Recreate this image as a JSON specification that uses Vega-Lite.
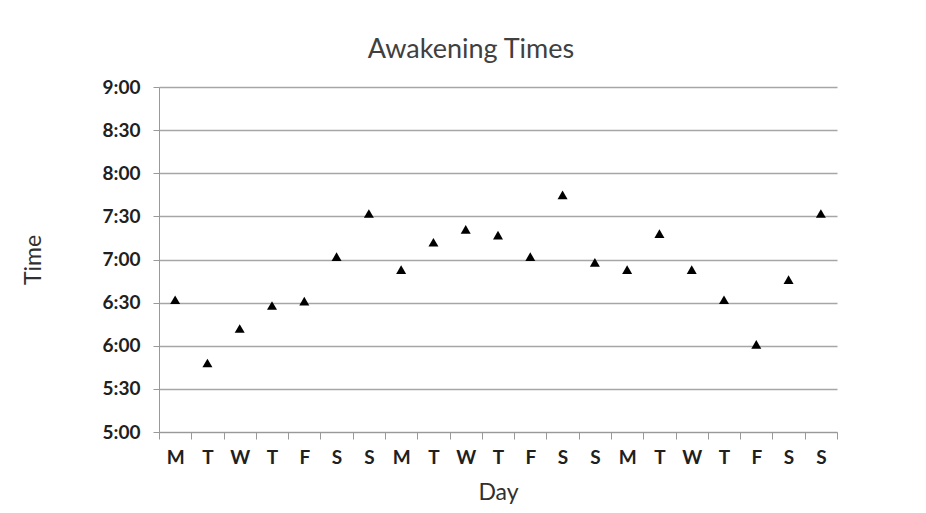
{
  "$schema": "https://vega.github.io/schema/vega-lite/v6.json",
  "width": 678,
  "height": 345,
  "autosize": {"type": "none"},
  "padding": {"left": 159, "top": 87, "right": 89, "bottom": 81},
  "background": "white",
  "title": {
    "text": "Awakening Times",
    "font": "Lato",
    "fontSize": 27,
    "fontWeight": "normal",
    "color": "#404040",
    "anchor": "middle",
    "dx": -27,
    "offset": 14
  },
  "data": {
    "values": [
      {"n": 1, "day": "M", "minutes": 392},
      {"n": 2, "day": "T", "minutes": 348},
      {"n": 3, "day": "W", "minutes": 372},
      {"n": 4, "day": "T", "minutes": 388},
      {"n": 5, "day": "F", "minutes": 391},
      {"n": 6, "day": "S", "minutes": 422},
      {"n": 7, "day": "S", "minutes": 452},
      {"n": 8, "day": "M", "minutes": 413},
      {"n": 9, "day": "T", "minutes": 432},
      {"n": 10, "day": "W", "minutes": 441},
      {"n": 11, "day": "T", "minutes": 437},
      {"n": 12, "day": "F", "minutes": 422},
      {"n": 13, "day": "S", "minutes": 465},
      {"n": 14, "day": "S", "minutes": 418},
      {"n": 15, "day": "M", "minutes": 413},
      {"n": 16, "day": "T", "minutes": 438},
      {"n": 17, "day": "W", "minutes": 413},
      {"n": 18, "day": "T", "minutes": 392},
      {"n": 19, "day": "F", "minutes": 361},
      {"n": 20, "day": "S", "minutes": 406},
      {"n": 21, "day": "S", "minutes": 452}
    ]
  },
  "mark": {"type": "point", "shape": "triangle-up", "filled": true, "color": "black", "size": 100, "opacity": 1},
  "encoding": {
    "x": {
      "field": "n",
      "type": "ordinal",
      "title": "Day",
      "scale": {"type": "band", "paddingInner": 0, "paddingOuter": 0},
      "axis": {
        "labelExpr": "!(datum.value >= 1 && datum.value <= 21) ? '' : datum.value % 7 == 1 ? 'M' : datum.value % 7 == 2 ? 'T' : datum.value % 7 == 3 ? 'W' : datum.value % 7 == 4 ? 'T' : datum.value % 7 == 5 ? 'F' : 'S'",
        "labelAngle": 0,
        "labelFont": "Lato",
        "labelFontWeight": "bold",
        "labelFontSize": 19,
        "labelColor": "#202020",
        "labelPadding": 9,
        "titleFont": "Lato",
        "titleFontWeight": "normal",
        "titleFontSize": 23,
        "titleColor": "#303030",
        "titlePadding": 14,
        "tickBand": "extent",
        "tickSize": 7,
        "tickColor": "#999999",
        "domainColor": "#999999",
        "grid": false
      }
    },
    "y": {
      "field": "minutes",
      "type": "quantitative",
      "title": "Time",
      "scale": {"domain": [300, 540], "nice": false, "zero": false},
      "axis": {
        "values": [300, 330, 360, 390, 420, 450, 480, 510, 540],
        "labelExpr": "floor(datum.value / 60) + ':' + (datum.value % 60 == 0 ? '00' : '30')",
        "labelFont": "Lato",
        "labelFontWeight": "bold",
        "labelFontSize": 19,
        "labelColor": "#202020",
        "labelPadding": 13,
        "titleFont": "Lato",
        "titleFontWeight": "normal",
        "titleFontSize": 23,
        "titleColor": "#303030",
        "titlePadding": 57,
        "tickSize": 6,
        "tickColor": "#999999",
        "domainColor": "#999999",
        "gridColor": "#a6a6a6",
        "gridWidth": 1.3
      }
    }
  },
  "config": {"view": {"stroke": null}}
}
